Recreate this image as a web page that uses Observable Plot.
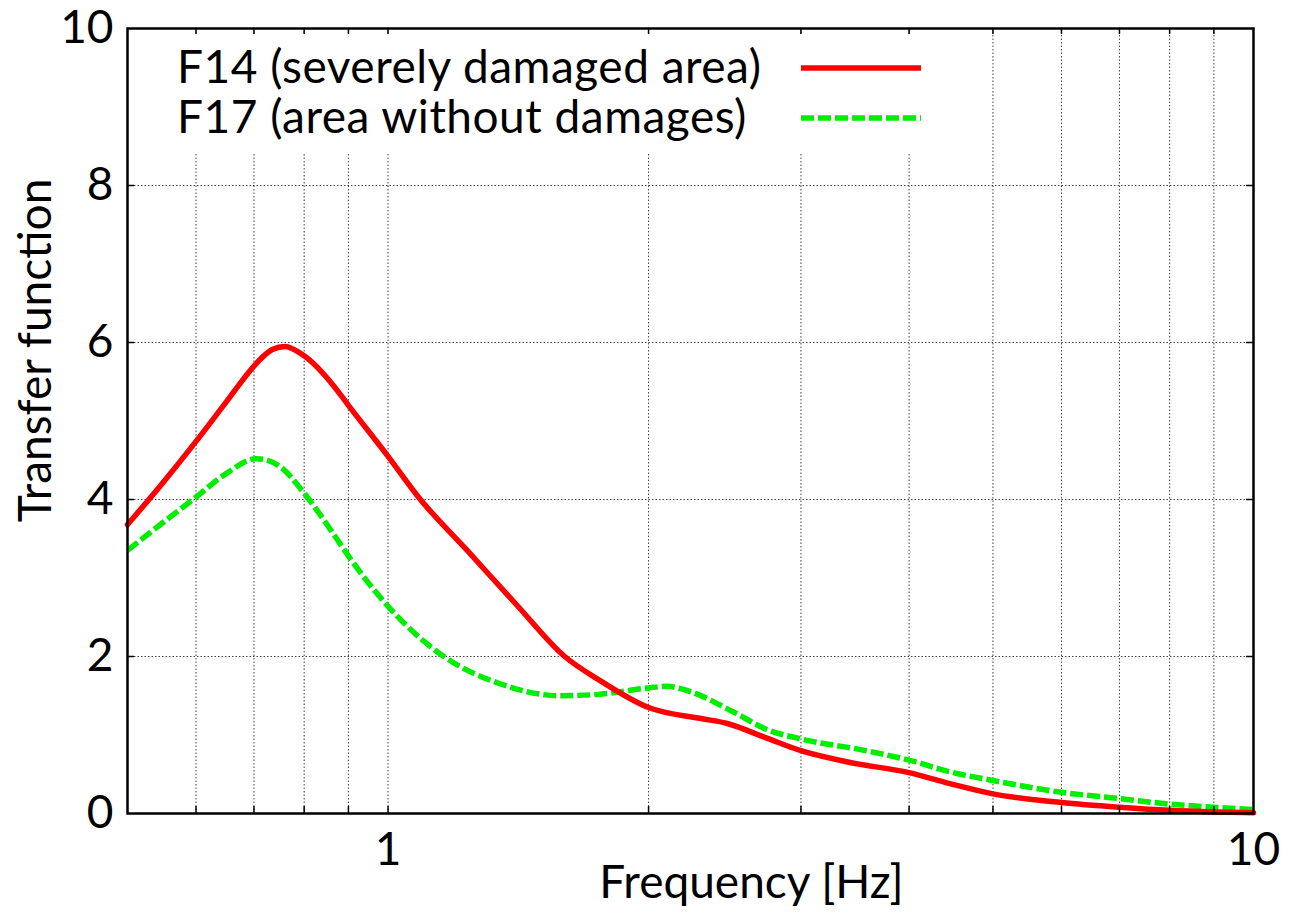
<!DOCTYPE html>
<html>
<head>
<meta charset="utf-8">
<script src="https://cdn.jsdelivr.net/npm/d3@7"></script>
<script src="https://cdn.jsdelivr.net/npm/@observablehq/plot@0.6"></script>
<style>
  html, body { margin: 0; padding: 0; background: #fff; }
  #chart { width: 1295px; height: 915px; }
</style>
</head>
<body>
<div id="chart"></div>
<script>
// ---- data ----
const f14Freq  = [0.5, 0.55, 0.6, 0.65, 0.7, 0.717, 0.735, 0.76, 0.8, 0.865, 0.9, 1.0, 1.09, 1.23, 1.41, 1.6, 1.76, 2.0, 2.3, 2.46, 2.74, 3.0, 3.42, 4.0, 4.46, 5.0, 6.0, 7.0, 8.0, 9.0, 10];
const f14Value = [3.68, 4.22, 4.74, 5.24, 5.7, 5.82, 5.91, 5.95, 5.83, 5.45, 5.2, 4.55, 4.0, 3.37, 2.65, 2.0, 1.69, 1.35, 1.21, 1.15, 0.96, 0.80, 0.65, 0.52, 0.38, 0.25, 0.14, 0.08, 0.04, 0.02, 0.01];

const f17Freq  = [0.5, 0.55, 0.6, 0.65, 0.705, 0.75, 0.8, 0.865, 0.9, 1.0, 1.16, 1.35, 1.58, 1.76, 2.0, 2.1, 2.21, 2.51, 2.74, 3.0, 3.57, 4.03, 4.46, 5.0, 6.0, 7.0, 8.0, 9.0, 10];
const f17Value = [3.35, 3.71, 4.03, 4.33, 4.52, 4.42, 4.08, 3.56, 3.28, 2.64, 2.0, 1.65, 1.50, 1.52, 1.60, 1.62, 1.57, 1.29, 1.07, 0.95, 0.80, 0.67, 0.53, 0.42, 0.27, 0.19, 0.12, 0.08, 0.05];

const seriesLabels = ["F14 (severely damaged area)", "F17 (area without damages)"];
const xGridTicks = [0.6, 0.7, 0.8, 0.9, 1, 2, 3, 4, 5, 6, 7, 8, 9];
const xTickLabels = [1, 10];
const yTickLabels = [0, 2, 4, 6, 8, 10];
const yGridTicks = [2, 4, 6, 8];
const xTitle = "Frequency [Hz]";
const yTitle = "Transfer function";

// ---- build tables ----
const f14 = f14Freq.map((f, i) => ({f, v: f14Value[i]}));
const f17 = f17Freq.map((f, i) => ({f, v: f17Value[i]}));

const W = 1295, H = 915;
const mL = 127, mR = 42, mT = 28, mB = 102;
const plotW = W - mL - mR, plotH = H - mT - mB;
const FONT = "Lato, 'Open Sans', sans-serif";
const RED = "#ff0000", GREEN = "#00ee00";
const GREEN_DASH = "13,4";

function legendBackground(index, scales, values, dims) {
  const g = d3.create("svg:g");
  g.append("rect")
    .attr("x", dims.marginLeft + 2)
    .attr("y", dims.marginTop + 7)
    .attr("width", 812)
    .attr("height", 118)
    .attr("fill", "#fff");
  return g.node();
}

function legend(index, scales, values, dims) {
  const g = d3.create("svg:g")
    .attr("font-family", FONT)
    .attr("font-size", 46)
    .attr("letter-spacing", "0.5px")
    .attr("text-anchor", "start")
    .attr("fill", "#000");
  const styles = [
    {stroke: RED, dash: null},
    {stroke: GREEN, dash: GREEN_DASH}
  ];
  seriesLabels.forEach((label, i) => {
    const yBase = dims.marginTop + 55 + i * 50;
    g.append("text")
      .attr("x", dims.marginLeft + 50)
      .attr("y", yBase)
      .attr("text-anchor", "start")
      .text(label);
    const line = g.append("line")
      .attr("x1", dims.marginLeft + 674)
      .attr("x2", dims.marginLeft + 794)
      .attr("y1", yBase - 15)
      .attr("y2", yBase - 15)
      .attr("stroke", styles[i].stroke)
      .attr("stroke-width", 5.5)
      .attr("stroke-linecap", "butt");
    if (styles[i].dash) line.attr("stroke-dasharray", styles[i].dash);
  });
  return g.node();
}

const gridStyle = {stroke: "#000", strokeOpacity: 0.75, strokeWidth: 1, strokeDasharray: "1.5,2"};

const chart = Plot.plot({
  width: W,
  height: H,
  marginLeft: mL,
  marginRight: mR,
  marginTop: mT,
  marginBottom: mB,
  style: {fontFamily: FONT, fontSize: "46px", background: "#fff", color: "#000"},
  x: {type: "log", domain: [0.5, 10]},
  y: {domain: [0, 10]},
  marks: [
    Plot.gridX(xGridTicks, gridStyle),
    Plot.gridY(yGridTicks, gridStyle),
    legendBackground,
    Plot.line(f17, {x: "f", y: "v", stroke: GREEN, strokeWidth: 5.5, strokeDasharray: GREEN_DASH, strokeLinecap: "butt", curve: "monotone-x"}),
    Plot.line(f14, {x: "f", y: "v", stroke: RED, strokeWidth: 5.5, curve: "monotone-x"}),
    // inward ticks (bottom, top, left, right)
    Plot.ruleX(xGridTicks, {x: d => d, insetTop: plotH - 7, stroke: "#000", strokeWidth: 1.5}),
    Plot.ruleX(xGridTicks, {x: d => d, insetBottom: plotH - 6, stroke: "#000", strokeWidth: 1.5}),
    Plot.ruleY(yGridTicks, {y: d => d, insetRight: plotW - 7, stroke: "#000", strokeWidth: 1.5}),
    Plot.ruleY(yGridTicks, {y: d => d, insetLeft: plotW - 7, stroke: "#000", strokeWidth: 1.5}),
    Plot.frame({stroke: "#000", strokeWidth: 2.5}),
    Plot.axisY(yTickLabels, {tickSize: 0, tickPadding: 14, fontSize: 46, label: null, tickFormat: d => String(d)}),
    Plot.axisX(xTickLabels, {tickSize: 0, tickPadding: 19, fontSize: 46, label: null, tickFormat: d => String(d)}),
    Plot.text([xTitle], {text: d => d, frameAnchor: "bottom", textAnchor: "middle", lineAnchor: "bottom", dx: 61, dy: 84, fontSize: 46}),
    Plot.text([yTitle], {text: d => d, frameAnchor: "left", textAnchor: "middle", lineAnchor: "bottom", rotate: -90, dx: -77, dy: -70.5, fontSize: 46}),
    legend
  ]
});

document.getElementById("chart").appendChild(chart);
</script>
</body>
</html>
